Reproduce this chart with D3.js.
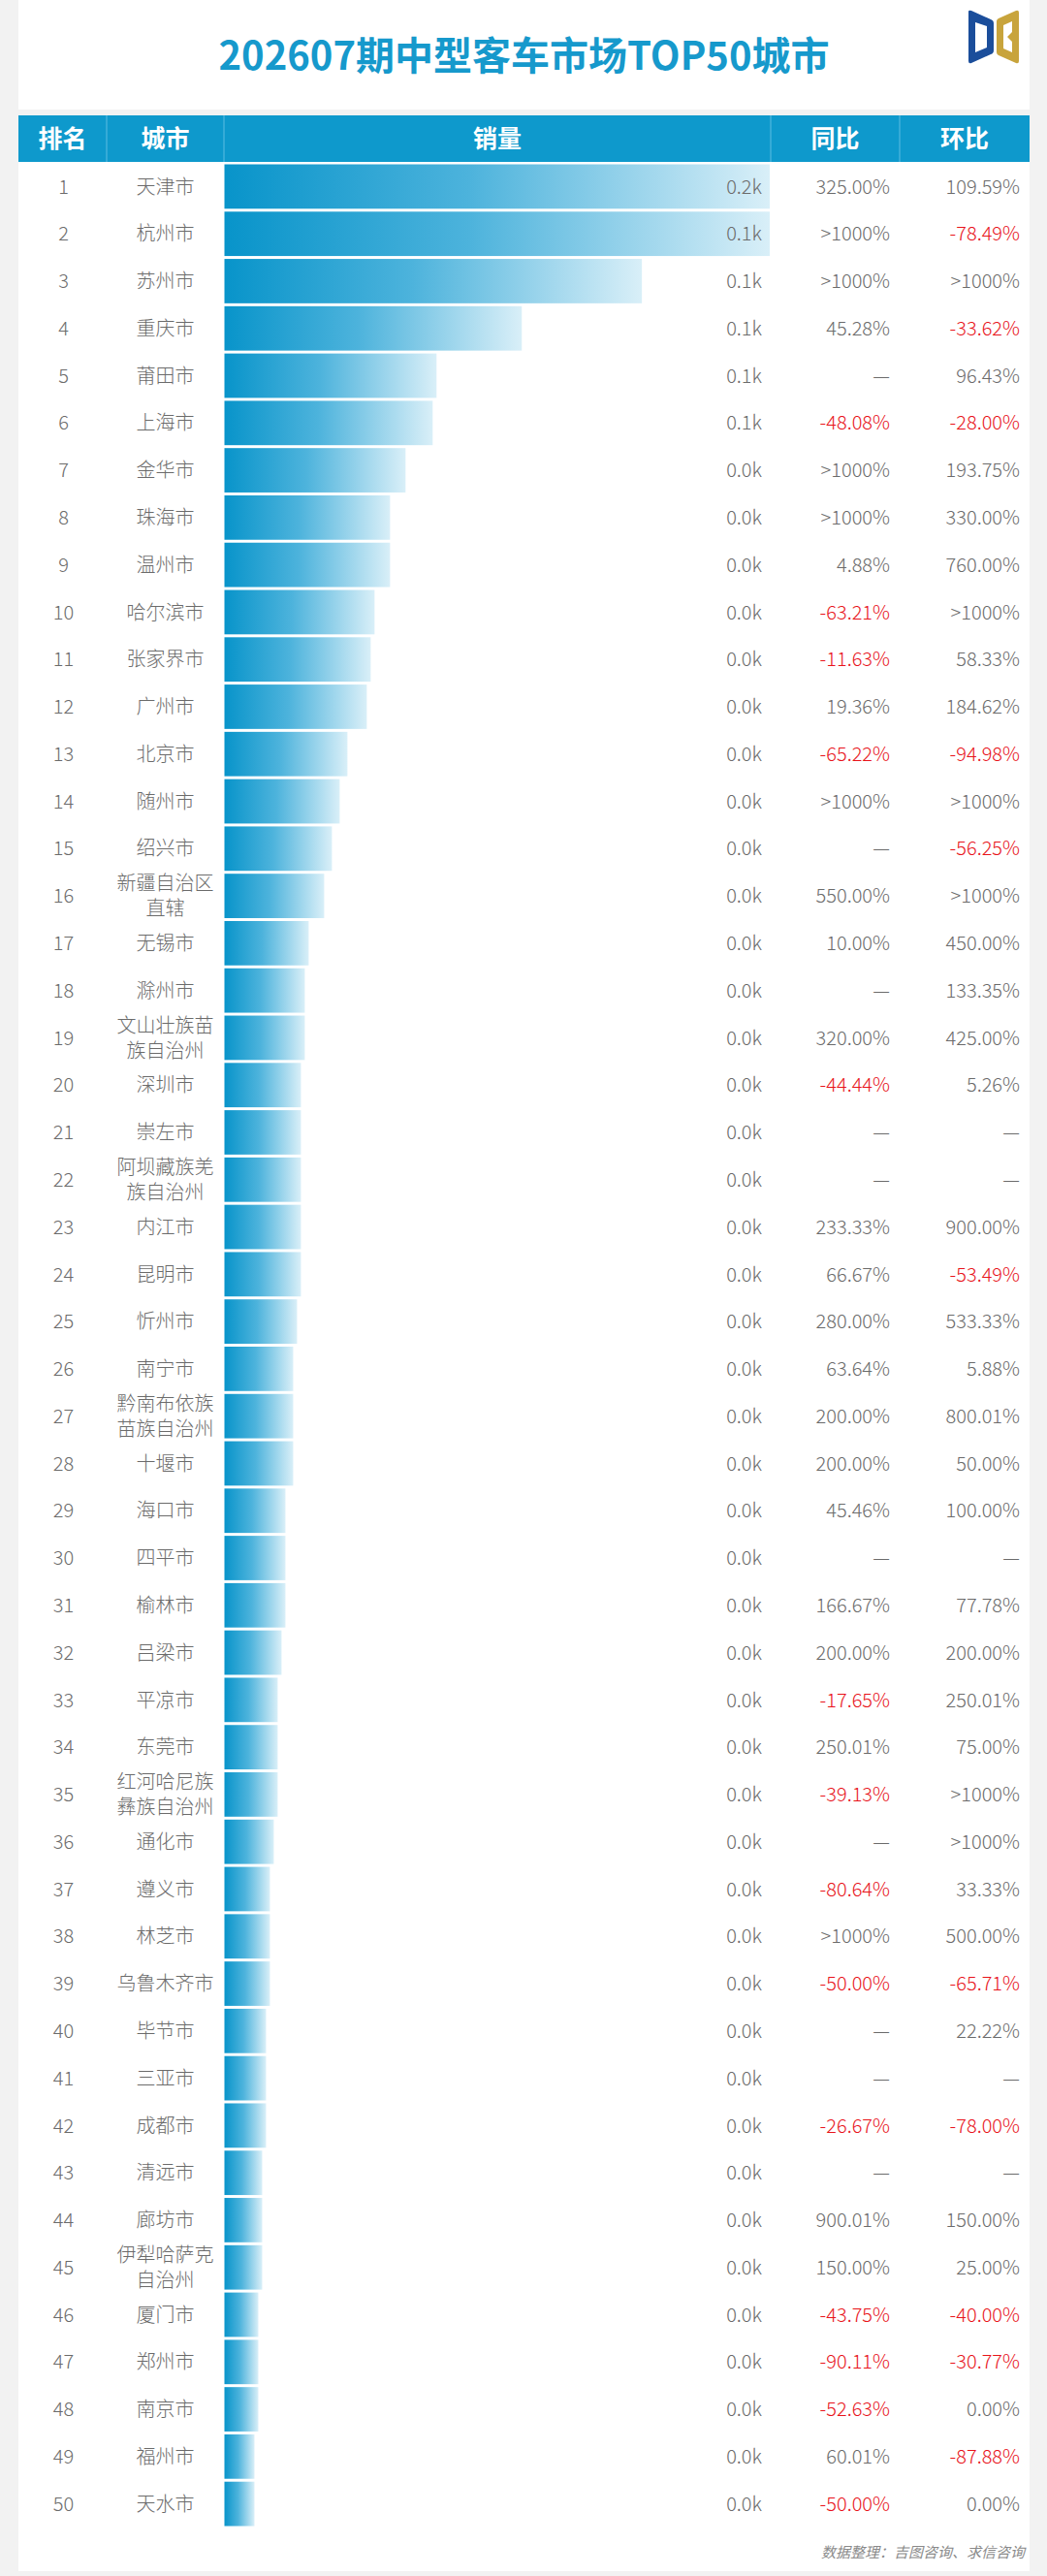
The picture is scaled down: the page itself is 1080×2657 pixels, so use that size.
<!DOCTYPE html>
<html>
<head>
<meta charset="utf-8">
<script src="https://cdn.jsdelivr.net/npm/d3@7"></script>
<style>
  html, body { margin: 0; padding: 0; background: #f2f2f2; }
  svg { display: block; }
  text { font-family: "Noto Sans CJK SC", "Noto Sans", sans-serif; }
</style>
</head>
<body>
<div id="chart"></div>
<script>
// data: 202607 medium bus sales, top 50 cities
const TITLE = "202607期中型客车市场TOP50城市";
const HEADERS = ["排名", "城市", "销量", "同比", "环比"];
const SOURCE = "数据整理：吉图咨询、求信咨询";

const cities = [
  "天津市", "杭州市", "苏州市", "重庆市", "莆田市", "上海市", "金华市", "珠海市", "温州市", "哈尔滨市",
  "张家界市", "广州市", "北京市", "随州市", "绍兴市", "新疆自治区直辖", "无锡市", "滁州市", "文山壮族苗族自治州", "深圳市",
  "崇左市", "阿坝藏族羌族自治州", "内江市", "昆明市", "忻州市", "南宁市", "黔南布依族苗族自治州", "十堰市", "海口市", "四平市",
  "榆林市", "吕梁市", "平凉市", "东莞市", "红河哈尼族彝族自治州", "通化市", "遵义市", "林芝市", "乌鲁木齐市", "毕节市",
  "三亚市", "成都市", "清远市", "廊坊市", "伊犁哈萨克自治州", "厦门市", "郑州市", "南京市", "福州市", "天水市"
];

const sales = [
  153, 141, 108, 77, 55, 54, 47, 43, 43, 39,
  38, 37, 32, 30, 28, 26, 22, 21, 21, 20,
  20, 20, 20, 20, 19, 18, 18, 18, 16, 16,
  16, 15, 14, 14, 14, 13, 12, 12, 12, 11,
  11, 11, 10, 10, 10, 9, 9, 9, 8, 8
];

const yoy = [
  "325.00%", ">1000%", ">1000%", "45.28%", "—", "-48.08%", ">1000%", ">1000%", "4.88%", "-63.21%",
  "-11.63%", "19.36%", "-65.22%", ">1000%", "—", "550.00%", "10.00%", "—", "320.00%", "-44.44%",
  "—", "—", "233.33%", "66.67%", "280.00%", "63.64%", "200.00%", "200.00%", "45.46%", "—",
  "166.67%", "200.00%", "-17.65%", "250.01%", "-39.13%", "—", "-80.64%", ">1000%", "-50.00%", "—",
  "—", "-26.67%", "—", "900.01%", "150.00%", "-43.75%", "-90.11%", "-52.63%", "60.01%", "-50.00%"
];

const mom = [
  "109.59%", "-78.49%", ">1000%", "-33.62%", "96.43%", "-28.00%", "193.75%", "330.00%", "760.00%", ">1000%",
  "58.33%", "184.62%", "-94.98%", ">1000%", "-56.25%", ">1000%", "450.00%", "133.35%", "425.00%", "5.26%",
  "—", "—", "900.00%", "-53.49%", "533.33%", "5.88%", "800.01%", "50.00%", "100.00%", "—",
  "77.78%", "200.00%", "250.01%", "75.00%", ">1000%", ">1000%", "33.33%", "500.00%", "-65.71%", "22.22%",
  "—", "-78.00%", "—", "150.00%", "25.00%", "-40.00%", "-30.77%", "0.00%", "-87.88%", "0.00%"
];

// the bar column is full at this value; larger bars are clipped to the cell
const BAR_FULL = 141;

const rows = cities.map((c, i) => ({
  rank: i + 1, city: c, sales: sales[i], yoy: yoy[i], mom: mom[i]
}));

const width = 1080;
const height = 2657;
const card = { left: 19, right: 1062 };
const cols = [19, 110, 231, 795, 928, 1062];
const headTop = 119, headBottom = 167;
const bodyTop = 168, bodyBottom = 2607;

const gray = "#6b6b6b";
const red = "#e8141b";
const blue = "#0e99cc";

const svg = d3.select("#chart").append("svg")
  .attr("width", width)
  .attr("height", height);

const defs = svg.append("defs");
const grad = defs.append("linearGradient")
  .attr("id", "barGrad")
  .attr("x1", "0%").attr("x2", "100%")
  .attr("y1", "0%").attr("y2", "0%");
grad.append("stop").attr("offset", "0%").attr("stop-color", "#0894ca");
grad.append("stop").attr("offset", "45%").attr("stop-color", "#4db3dc");
grad.append("stop").attr("offset", "100%").attr("stop-color", "#d9eff8");

// cards
svg.append("rect")
  .attr("x", card.left).attr("y", 0)
  .attr("width", card.right - card.left).attr("height", 113)
  .attr("fill", "#fff");
svg.append("rect")
  .attr("x", card.left).attr("y", headTop)
  .attr("width", card.right - card.left).attr("height", 2652 - headTop)
  .attr("fill", "#fff");

// title
svg.append("text")
  .attr("x", (card.left + card.right) / 2)
  .attr("y", 72)
  .attr("text-anchor", "middle")
  .attr("fill", "#1699cc")
  .style("font-size", "40px")
  .style("font-weight", "700")
  .text(TITLE);

// logo
const logo = svg.append("g").attr("transform", "translate(999,10)");
logo.append("path")
  .attr("fill", "#1b4e9b")
  .attr("fill-rule", "evenodd")
  .attr("d", "M0,2 Q0,0 3,1 L23,10 Q26,11 26,14 L26,42 Q26,45 23,46 L3,55 Q0,56 0,53 Z M7,13 L7,44 L19,39 L19,17 Z");
logo.append("path")
  .attr("fill", "#c8a43c")
  .attr("fill-rule", "evenodd")
  .attr("d", "M29,12 Q29,10 31,9 L49,1 Q52,0 52,3 L52,53 Q52,56 49,55 L31,47 Q29,46 29,44 Z M36,16 L36,40 L45,44 L45,33 L40,28 L45,23 L45,12 Z");

// header
svg.append("rect")
  .attr("x", card.left).attr("y", headTop)
  .attr("width", card.right - card.left).attr("height", headBottom - headTop)
  .attr("fill", blue);

svg.append("g")
  .selectAll("line")
  .data(cols.slice(1, -1))
  .join("line")
  .attr("x1", (d) => d).attr("x2", (d) => d)
  .attr("y1", headTop).attr("y2", headBottom)
  .attr("stroke", "#5cbde2")
  .attr("stroke-width", 1);

svg.append("g")
  .selectAll("text")
  .data(HEADERS)
  .join("text")
  .attr("x", (d, i) => (cols[i] + cols[i + 1]) / 2)
  .attr("y", (headTop + headBottom) / 2)
  .attr("dy", "0.36em")
  .attr("text-anchor", "middle")
  .attr("fill", "#fff")
  .style("font-size", "25px")
  .style("font-weight", "700")
  .text((d) => d);

// scales
const y = d3.scaleBand()
  .domain(rows.map((d) => d.rank))
  .range([bodyTop, bodyBottom]);

const x = d3.scaleLinear()
  .domain([0, BAR_FULL])
  .range([cols[2] + 0.5, cols[3]])
  .clamp(true);

const fmtK = (v) => (v / 1000).toFixed(1) + "k";
const isNeg = (s) => s.startsWith("-");

const row = svg.append("g")
  .selectAll("g")
  .data(rows)
  .join("g")
  .attr("transform", (d) => `translate(0,${y(d.rank)})`);

const bh = y.bandwidth();

row.append("rect")
  .attr("x", x(0))
  .attr("y", 1.5)
  .attr("width", (d) => x(d.sales) - x(0) - 1)
  .attr("height", bh - 3)
  .attr("fill", "url(#barGrad)");

const cellText = (sel) => sel
  .attr("dy", "0.36em")
  .style("font-size", "20px")
  .style("font-weight", "300");

row.append("text")
  .call(cellText)
  .attr("x", (cols[0] + cols[1]) / 2 + 1)
  .attr("y", bh / 2)
  .attr("text-anchor", "middle")
  .attr("fill", gray)
  .text((d) => d.rank);

// city names longer than 5 chars wrap onto two lines
row.each(function (d) {
  const lines = d.city.length > 5 ? [d.city.slice(0, 5), d.city.slice(5)] : [d.city];
  const t = d3.select(this).append("text")
    .attr("text-anchor", "middle")
    .attr("fill", gray)
    .style("font-size", "20px")
    .style("font-weight", "300");
  lines.forEach((l, k) => {
    t.append("tspan")
      .attr("x", (cols[1] + cols[2]) / 2)
      .attr("y", bh / 2 + (k - (lines.length - 1) / 2) * 26)
      .attr("dy", "0.36em")
      .text(l);
  });
});

row.append("text")
  .call(cellText)
  .attr("x", cols[3] - 9)
  .attr("y", bh / 2)
  .attr("text-anchor", "end")
  .attr("fill", gray)
  .text((d) => fmtK(d.sales));

row.append("text")
  .call(cellText)
  .attr("x", cols[4] - 10)
  .attr("y", bh / 2)
  .attr("text-anchor", "end")
  .attr("fill", (d) => (isNeg(d.yoy) ? red : gray))
  .text((d) => d.yoy);

row.append("text")
  .call(cellText)
  .attr("x", cols[5] - 10)
  .attr("y", bh / 2)
  .attr("text-anchor", "end")
  .attr("fill", (d) => (isNeg(d.mom) ? red : gray))
  .text((d) => d.mom);

// source note
svg.append("text")
  .attr("x", card.right - 5)
  .attr("y", 2638)
  .attr("text-anchor", "end")
  .attr("fill", "#8a8a8a")
  .style("font-size", "15px")
  .style("font-style", "italic")
  .text(SOURCE);
</script>
</body>
</html>
